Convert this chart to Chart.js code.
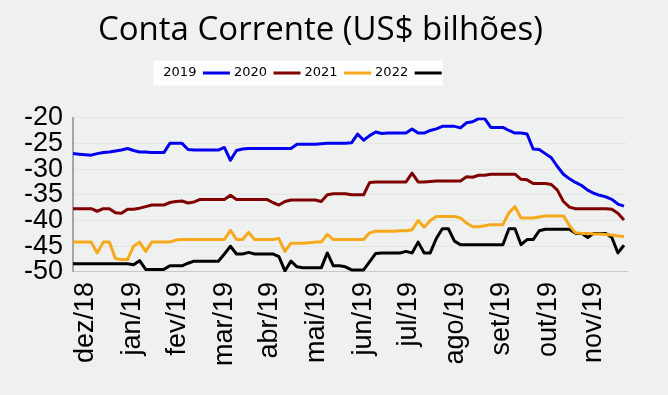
<!DOCTYPE html>
<html>
<head>
<meta charset="utf-8">
<script src="https://cdn.jsdelivr.net/npm/chart.js@4"></script>
<style>
  html, body { margin: 0; padding: 0; background: #eff0f0; }
  #wrap { width: 668px; height: 395px; }
</style>
</head>
<body>
<div id="wrap"><canvas id="contaChart" width="668" height="395"></canvas></div>
<script>
// x positions: days counted from 1 dec 2018
const days = [
  -6, -2, 2, 6, 10, 14, 18, 22, 26, 30,
  34, 38, 42, 46, 50, 54, 58, 62, 66, 70,
  74, 78, 82, 86, 90, 94, 98, 102, 106, 110,
  114, 118, 122, 126, 130, 134, 138, 142, 146, 150,
  154, 158, 162, 166, 170, 174, 178, 182, 186, 190,
  194, 198, 202, 206, 210, 214, 218, 222, 226, 230,
  234, 238, 242, 246, 250, 254, 258, 262, 266, 270,
  274, 278, 282, 286, 290, 294, 298, 302, 306, 310,
  314, 318, 322, 326, 330, 334, 338, 342, 346, 350,
  354, 358
];

const monthTickDays = [2, 33, 63, 94, 124, 155, 186, 216, 247, 277, 308, 338];
const monthLabels = ['dez/18', 'jan/19', 'fev/19', 'mar/19', 'abr/19', 'mai/19',
  'jun/19', 'jul/19', 'ago/19', 'set/19', 'out/19', 'nov/19'];

const seriesNames = ['2019', '2020', '2021', '2022'];
const seriesColors = ['#0000ee', '#800000', '#f7a81b', '#000000'];

const conta2019 = [
  -27.0, -27.1, -27.2, -27.3, -27.0, -26.8, -26.7, -26.5, -26.3, -26.0,
  -26.4, -26.7, -26.7, -26.8, -26.8, -26.8, -25.0, -25.0, -25.0, -26.2,
  -26.3, -26.3, -26.3, -26.3, -26.3, -25.8, -28.3, -26.4, -26.1, -26.0,
  -26.0, -26.0, -26.0, -26.0, -26.0, -26.0, -26.0, -25.2, -25.2, -25.2,
  -25.2, -25.1, -25.0, -25.0, -25.0, -25.0, -24.9, -23.2, -24.4, -23.5,
  -22.8, -23.1, -23.0, -23.0, -23.0, -23.0, -22.2, -23.0, -23.0, -22.5,
  -22.2, -21.7, -21.7, -21.7, -22.0, -21.0, -20.8, -20.2, -20.2, -21.9,
  -21.9, -21.9, -22.5, -23.0, -23.0, -23.2, -26.1, -26.2, -27.0, -27.8,
  -29.5, -31.0, -31.9, -32.6, -33.2, -34.1, -34.7, -35.1, -35.4, -35.9,
  -36.8, -37.2
];
const conta2020 = [
  -37.7, -37.7, -37.7, -37.7, -38.2, -37.7, -37.7, -38.5, -38.6, -37.8,
  -37.8, -37.6, -37.3, -37.0, -37.0, -37.0, -36.5, -36.3, -36.2, -36.6,
  -36.4, -35.9, -35.9, -35.9, -35.9, -35.9, -35.1, -35.9, -35.9, -35.9,
  -35.9, -35.9, -35.9, -36.5, -37.0, -36.3, -36.0, -36.0, -36.0, -36.0,
  -36.0, -36.3, -35.0, -34.8, -34.8, -34.8, -35.0, -35.0, -35.0, -32.6,
  -32.5, -32.5, -32.5, -32.5, -32.5, -32.5, -30.8, -32.5, -32.5, -32.4,
  -32.3, -32.3, -32.3, -32.3, -32.3, -31.5, -31.6, -31.2, -31.2, -31.0,
  -31.0, -31.0, -31.0, -31.0, -32.0, -32.1, -32.8, -32.8, -32.8, -33.0,
  -34.1, -36.3, -37.4, -37.7, -37.7, -37.7, -37.7, -37.7, -37.7, -37.8,
  -38.6, -39.9
];
const conta2021 = [
  -44.2, -44.2, -44.2, -44.2, -46.3, -44.2, -44.2, -47.4, -47.6, -47.6,
  -45.0, -44.2, -46.0, -44.2, -44.2, -44.2, -44.2, -43.8, -43.7, -43.7,
  -43.7, -43.7, -43.7, -43.7, -43.7, -43.7, -41.9, -43.7, -43.7, -42.3,
  -43.7, -43.7, -43.7, -43.7, -43.5, -46.0, -44.4, -44.4, -44.4, -44.3,
  -44.2, -44.2, -42.7, -43.7, -43.7, -43.7, -43.7, -43.7, -43.7, -42.4,
  -42.1, -42.1, -42.1, -42.1, -42.0, -42.0, -41.8, -40.0, -41.3, -40.0,
  -39.2, -39.2, -39.2, -39.2, -39.5, -40.5, -41.2, -41.2, -41.0, -40.8,
  -40.8, -40.8, -38.5, -37.3, -39.5, -39.5, -39.5, -39.3, -39.1, -39.1,
  -39.1, -39.1, -41.0, -42.4, -42.5, -42.5, -42.6, -42.6, -42.7, -42.8,
  -43.0, -43.1
];
const conta2022 = [
  -48.4, -48.4, -48.4, -48.4, -48.4, -48.4, -48.4, -48.4, -48.4, -48.4,
  -48.6, -47.8, -49.5, -49.5, -49.5, -49.5, -48.8, -48.8, -48.8, -48.3,
  -47.9, -47.9, -47.9, -47.9, -47.9, -46.5, -45.0, -46.5, -46.5, -46.2,
  -46.5, -46.5, -46.5, -46.5, -47.0, -49.8, -47.9, -49.0, -49.2, -49.2,
  -49.2, -49.2, -46.3, -48.8, -48.8, -49.0, -49.6, -49.6, -49.6, -48.0,
  -46.4, -46.3, -46.3, -46.3, -46.3, -46.0, -46.3, -44.2, -46.3, -46.3,
  -43.5, -41.6, -41.6, -44.0, -44.7, -44.7, -44.7, -44.7, -44.7, -44.7,
  -44.7, -44.7, -41.6, -41.6, -44.7, -43.7, -43.7, -42.0, -41.7, -41.7,
  -41.7, -41.7, -41.7, -42.5, -42.5, -43.3, -42.5, -42.5, -42.5, -43.3,
  -46.3, -44.8
];

const seriesValues = [conta2019, conta2020, conta2021, conta2022];

const tickFamily = "'Liberation Sans', Arial, Helvetica, sans-serif";

// background + white legend panel, extra space below legend, legend shifted left
const legendGap = 28;
const legendShift = -18;
const panelPlugin = {
  id: 'panel',
  afterInit(chart) {
    const legend = chart.legend;
    const origFit = legend.fit;
    legend.fit = function () {
      origFit.call(this);
      this.height += legendGap;
    };
  },
  afterLayout(chart) {
    chart.legend.left += legendShift;
    chart.legend.right += legendShift;
  },
  beforeDraw(chart) {
    const ctx = chart.ctx;
    ctx.save();
    ctx.fillStyle = '#eff0f0';
    ctx.fillRect(0, 0, chart.width, chart.height);
    const boxes = chart.legend.legendHitBoxes;
    if (boxes && boxes.length) {
      const left = Math.min(...boxes.map(b => b.left));
      const right = Math.max(...boxes.map(b => b.left + b.width));
      const top = Math.min(...boxes.map(b => b.top));
      const bottom = Math.max(...boxes.map(b => b.top + b.height));
      ctx.fillStyle = '#ffffff';
      ctx.fillRect(left - 10, top - 6, right - left + 11, bottom - top + 12);
    }
    ctx.restore();
  }
};

const ctx = document.getElementById('contaChart').getContext('2d');

new Chart(ctx, {
  type: 'line',
  data: {
    labels: days,
    datasets: seriesNames.map((name, i) => ({
      label: name,
      data: seriesValues[i],
      borderColor: seriesColors[i],
      backgroundColor: seriesColors[i],
      borderWidth: 3,
      pointRadius: 0,
      tension: 0,
      borderJoinStyle: 'round',
      fill: false
    }))
  },
  options: {
    responsive: false,
    animation: false,
    devicePixelRatio: 1,
    layout: { padding: { left: 14, right: 41, top: 0, bottom: 19 } },
    plugins: {
      title: {
        display: true,
        text: 'Conta Corrente (US$ bilhões)',
        color: '#000',
        font: { family: "'Open Sans', sans-serif", size: 33, weight: 'normal' },
        padding: { top: 11, bottom: 12 }
      },
      legend: {
        position: 'top',
        rtl: true,
        reverse: true,
        labels: {
          usePointStyle: true,
          pointStyle: 'line',
          pointStyleWidth: 27,
          padding: 4,
          color: '#000',
          font: { family: "'DejaVu Sans', sans-serif", size: 13 }
        }
      },
      tooltip: { enabled: false }
    },
    scales: {
      x: {
        type: 'linear',
        min: -6,
        max: 360,
        grid: { display: false, drawTicks: false },
        border: { color: '#c8c8c8', width: 1 },
        afterBuildTicks: (scale) => {
          scale.ticks = monthTickDays.map(v => ({ value: v }));
        },
        ticks: {
          autoSkip: false,
          minRotation: 90,
          maxRotation: 90,
          padding: 10,
          color: '#000',
          font: { family: tickFamily, size: 27 },
          callback: (value, index) => monthLabels[index]
        }
      },
      y: {
        min: -50,
        max: -20,
        grid: { color: '#e4e5e5', drawTicks: false },
        border: { color: '#a6a6a6', width: 2 },
        ticks: {
          stepSize: 5,
          autoSkip: false,
          padding: 10,
          color: '#000',
          font: { family: tickFamily, size: 27, lineHeight: 1 }
        }
      }
    }
  },
  plugins: [panelPlugin]
});
</script>
</body>
</html>
